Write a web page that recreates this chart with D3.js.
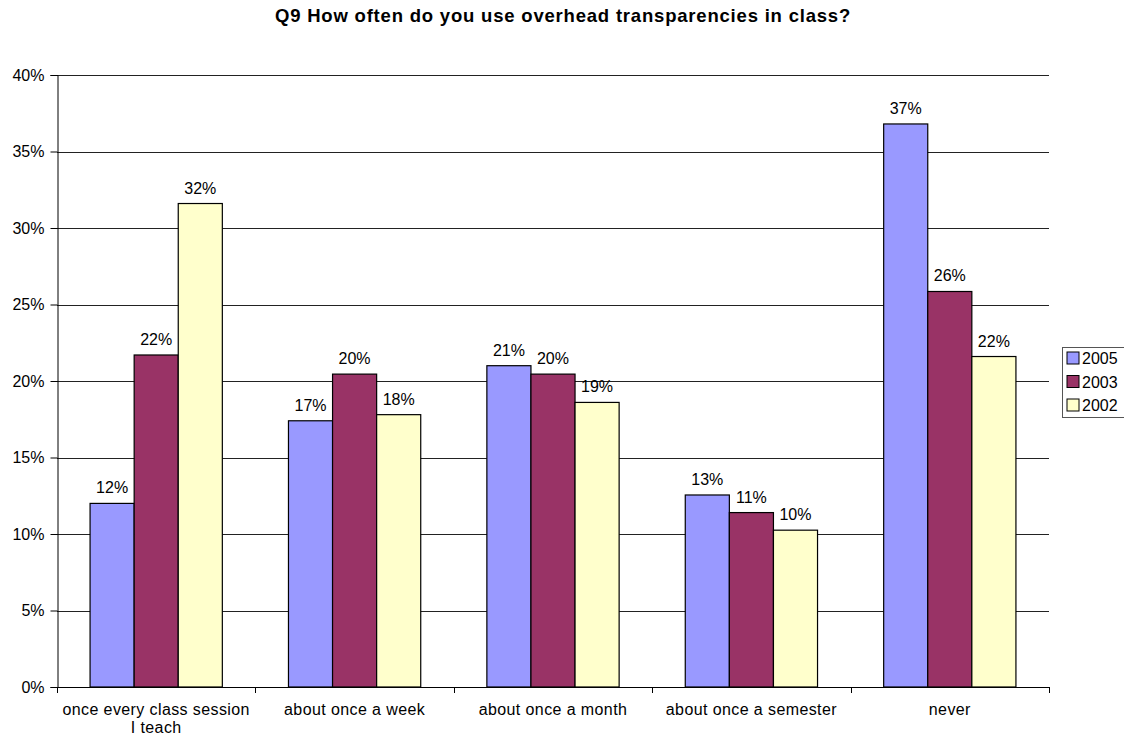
<!DOCTYPE html>
<html>
<head>
<meta charset="utf-8">
<script src="https://cdn.jsdelivr.net/npm/d3@7/dist/d3.min.js"></script>
<style>
  html, body { margin: 0; padding: 0; background: #fff; }
  svg { display: block; font-family: "Liberation Sans", Arial, sans-serif; }
</style>
</head>
<body>
<svg id="chart" width="1124" height="738"></svg>
<script>
// Survey answers, share of respondents (%) per year
const categories = ["once every class session\nI teach", "about once a week", "about once a month", "about once a semester", "never"];
const seriesNames = ["2005", "2003", "2002"];
const values2005 = [12.0, 17.4, 21.0, 12.55, 36.8];
const values2003 = [21.7, 20.45, 20.45, 11.4, 25.85];
const values2002 = [31.6, 17.8, 18.6, 10.25, 21.6];
const yTicks = [0, 5, 10, 15, 20, 25, 30, 35, 40];
const title = "Q9 How often do you use overhead transparencies in class?";

const seriesValues = [values2005, values2003, values2002];
const colors = ["#9999FF", "#993366", "#FFFFCC"];

const svg = d3.select("#chart");
const plot = { left: 57, right: 1049, top: 75, bottom: 687 };

const x = d3.scaleBand()
  .domain(categories)
  .range([plot.left, plot.right])
  .paddingInner(1 / 3)
  .paddingOuter(1 / 6);

const xs = d3.scaleBand()
  .domain(seriesNames)
  .range([0, x.bandwidth()])
  .padding(0);

const y = d3.scaleLinear()
  .domain([0, 40])
  .range([plot.bottom, plot.top]);

// Title
svg.append("text")
  .attr("x", 563)
  .attr("y", 22)
  .attr("text-anchor", "middle")
  .attr("font-size", "18.5px")
  .attr("font-weight", "bold")
  .attr("letter-spacing", "0.8px")
  .text(title);

// Horizontal gridlines
svg.append("g")
  .selectAll("line")
  .data(yTicks.filter(d => d > 0))
  .join("line")
  .attr("x1", plot.left)
  .attr("x2", plot.right)
  .attr("y1", d => Math.round(y(d)) + 0.5)
  .attr("y2", d => Math.round(y(d)) + 0.5)
  .attr("stroke", "#222")
  .attr("stroke-width", 1);

// Y axis
const yAxis = d3.axisLeft(y)
  .tickValues(yTicks)
  .tickFormat(d => d + "%")
  .tickSize(7)
  .tickPadding(6);
const gy = svg.append("g")
  .attr("transform", `translate(${plot.left + 0.5},0)`)
  .call(yAxis);
gy.select(".domain").attr("stroke", "#000");
gy.selectAll(".tick line").attr("stroke", "#000");
gy.selectAll(".tick text")
  .attr("font-size", "16px")
  .attr("fill", "#000")
  .attr("font-family", "'Liberation Sans', Arial, sans-serif");

// Bars
const groups = svg.append("g")
  .selectAll("g")
  .data(categories)
  .join("g")
  .attr("transform", d => `translate(${x(d)},0)`);

groups.selectAll("rect")
  .data((c, i) => seriesNames.map((s, k) => ({ s, k, v: seriesValues[k][i] })))
  .join("rect")
  .attr("x", d => xs(d.s))
  .attr("y", d => y(d.v))
  .attr("width", xs.bandwidth())
  .attr("height", d => y(0) - y(d.v))
  .attr("fill", d => colors[d.k])
  .attr("stroke", "#000")
  .attr("stroke-width", 1.2);

// Value labels
groups.selectAll("text")
  .data((c, i) => seriesNames.map((s, k) => ({ s, k, v: seriesValues[k][i] })))
  .join("text")
  .attr("x", d => xs(d.s) + xs.bandwidth() / 2)
  .attr("y", d => y(d.v) - 10)
  .attr("text-anchor", "middle")
  .attr("font-size", "16px")
  .text(d => Math.round(d.v) + "%");

// X axis line with boundary ticks
const gx = svg.append("g");
gx.append("line")
  .attr("x1", plot.left)
  .attr("x2", plot.right)
  .attr("y1", plot.bottom + 0.5)
  .attr("y2", plot.bottom + 0.5)
  .attr("stroke", "#000");
const boundaries = categories.map(c => x(c) - x.step() * x.paddingOuter()).concat([plot.right]);
gx.selectAll("line.tick")
  .data(boundaries)
  .join("line")
  .attr("class", "tick")
  .attr("x1", d => Math.round(d) + 0.5)
  .attr("x2", d => Math.round(d) + 0.5)
  .attr("y1", plot.bottom)
  .attr("y2", plot.bottom + 6)
  .attr("stroke", "#000");

// Category labels
gx.selectAll("text")
  .data(categories)
  .join("text")
  .attr("text-anchor", "middle")
  .attr("font-size", "16px")
  .attr("letter-spacing", "0.4px")
  .attr("x", d => x(d) + x.bandwidth() / 2)
  .attr("y", 715)
  .each(function (d) {
    const lines = d.split("\n");
    d3.select(this).selectAll("tspan")
      .data(lines)
      .join("tspan")
      .attr("x", x(d) + x.bandwidth() / 2)
      .attr("dy", (l, i) => i === 0 ? 0 : 17.5)
      .text(l => l);
  });

// Legend
const legend = svg.append("g").attr("transform", "translate(1062,347)");
legend.append("rect")
  .attr("x", 0.5)
  .attr("y", 0.5)
  .attr("width", 80)
  .attr("height", 70)
  .attr("fill", "#fff")
  .attr("stroke", "#555");
const items = legend.selectAll("g")
  .data(seriesNames)
  .join("g")
  .attr("transform", (d, i) => `translate(5,${11 + i * 23.5})`);
items.append("rect")
  .attr("x", 0)
  .attr("y", -6)
  .attr("width", 12)
  .attr("height", 12)
  .attr("fill", (d, i) => colors[i])
  .attr("stroke", "#000");
items.append("text")
  .attr("x", 15)
  .attr("y", 6)
  .attr("font-size", "16px")
  .text(d => d);
</script>
</body>
</html>
